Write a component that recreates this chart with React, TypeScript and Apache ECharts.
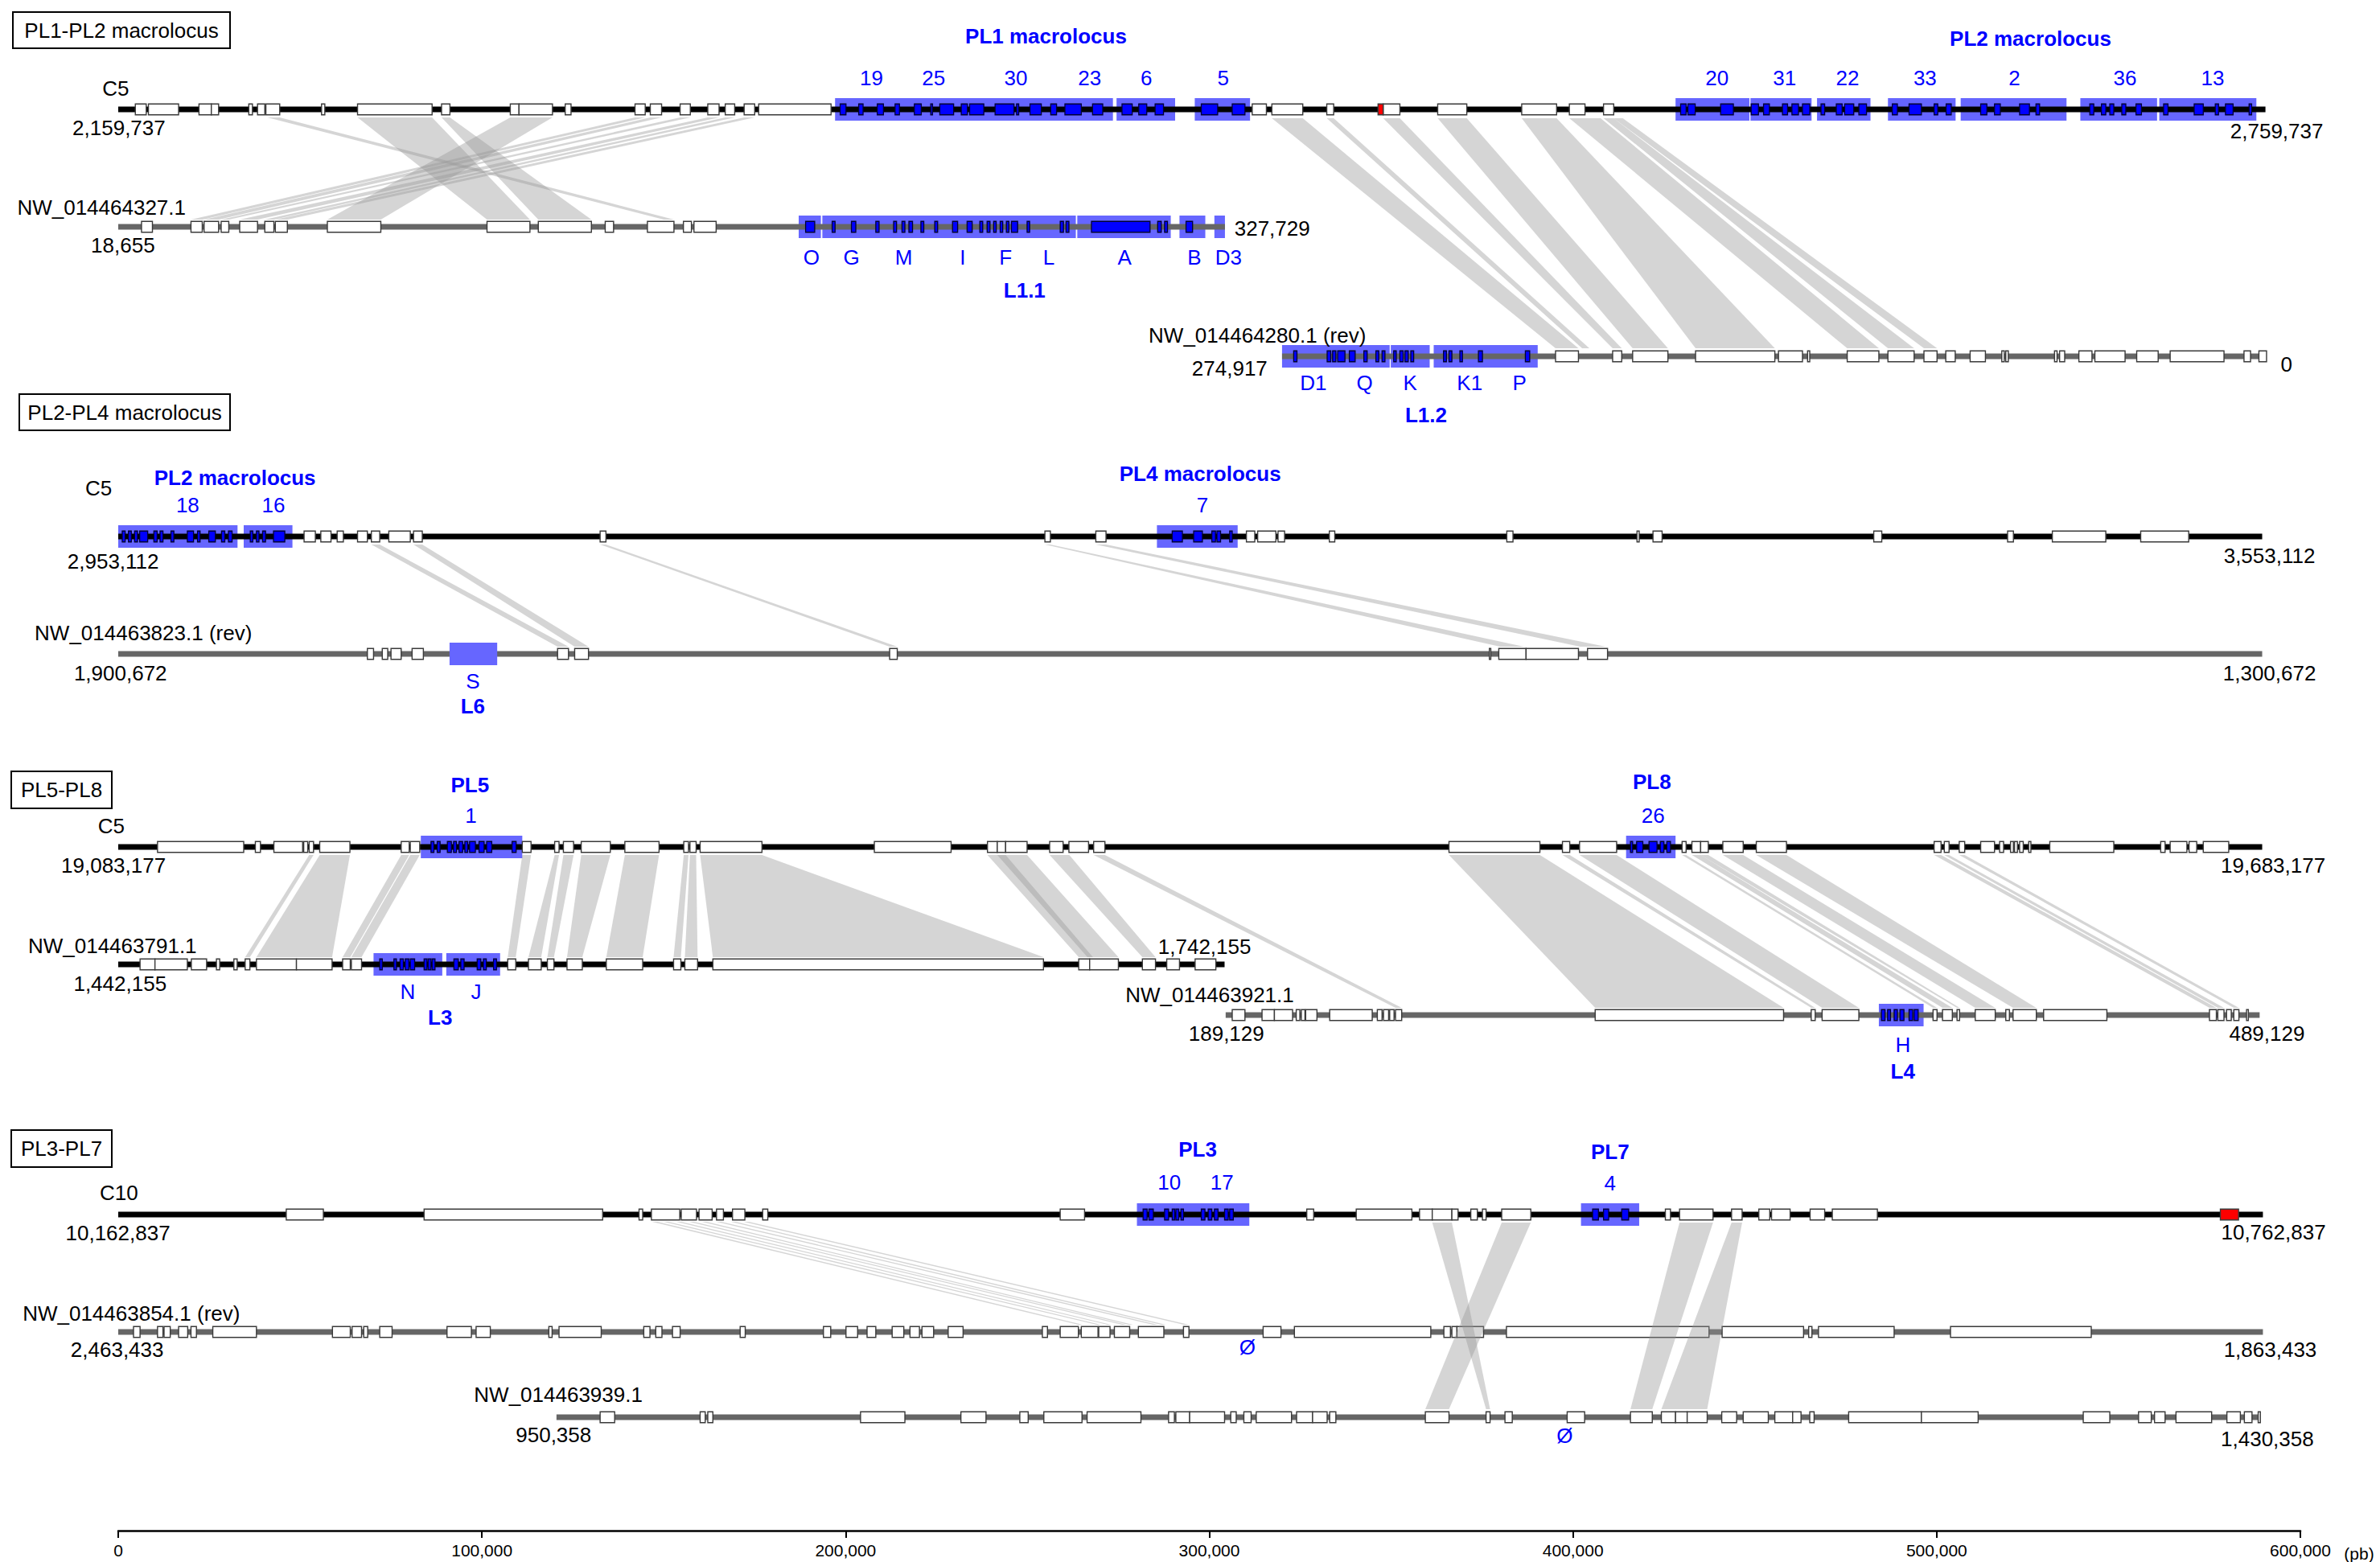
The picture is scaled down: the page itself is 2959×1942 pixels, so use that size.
import React, { useEffect, useRef } from 'react';
import * as echarts from 'echarts';

const FONT = '"Liberation Sans", Arial, Helvetica, sans-serif';

// Vertical rows (pixel positions of each track)
const ROW = {
  p1c5: 136, p1a: 282, p1b: 443,
  p2c5: 667, p2a: 813,
  p3c5: 1053, p3a: 1199, p3b: 1262,
  p4c10: 1510, p4a: 1656, p4b: 1762,
};

// ---------- Panel 1: PL1-PL2 macrolocus ----------
const p1c5Span = [0, 590400];
const p1c5Genes = [[4700,7700],[8300,16600],[22200,25600],[25600,27600],[35900,36900],[38300,40300],[40600,44400],[55900,56800],[65800,86300],[88900,91200],[107800,110200],[110200,119400],[122900,124500],[142100,144900],[146300,149400],[154500,157300],[162100,165200],[166900,169500],[172100,175000],[176100,196000],[311800,315700],[317200,325700],[332300,334200],[347800,352400],[362800,370800],[385900,395500],[399000,403300],[408400,411200]];
const p1c5Red = [[346400,347800]];
const p1c5Blocks = [[197100,273500],[274500,290600],[296000,311200],[428200,448500],[448800,465600],[467100,481800],[486600,505200],[506600,535700],[539500,560600],[561200,587900]];
const p1c5Pgenes = [[198500,200100],[203600,204800],[208700,210400],[213600,214800],[218900,220800],[223400,223900],[225900,229700],[231800,233500],[234100,238000],[241100,246300],[247000,247600],[250700,253800],[256400,258000],[260300,264800],[267900,270700],[276000,278800],[280600,282800],[285100,287400],[297800,302300],[306300,309800],[429600,431100],[431600,433600],[440600,444100],[449000,451000],[452400,454000],[457600,459000],[460200,462000],[463100,465100],[468200,469200],[472400,474000],[474700,477200],[478600,480700],[487800,489200],[492400,495800],[499300,500300],[502600,504000],[512100,513800],[515900,517500],[522800,525500],[527300,528300],[542100,543200],[545300,546500],[547600,548700],[550900,552000],[554800,556300],[562400,563600],[570800,573300],[576600,577500],[579400,581500],[585900,586600]];

const p1aSpan = [0, 304300];
const p1aGenes = [[6400,9400],[20000,23100],[23600,27600],[28300,30400],[33400,38300],[40300,42800],[43200,46500],[57500,72200],[101400,113200],[115500,130100],[133900,136200],[145500,152800],[155400,157600],[158300,164400]];
const p1aBlocks = [[187100,193200],[193600,263300],[263700,289400],[291800,298900],[301400,304300]];
const p1aPgenes = [[189000,191500],[196300,197100],[201600,202800],[208300,209200],[213200,214000],[215500,216300],[217400,218400],[220700,221500],[224500,225300],[229400,230800],[233400,234800],[236900,237700],[238900,239700],[240700,241400],[242500,243200],[244200,244900],[245600,247300],[249900,250600],[259000,259900],[260600,261400],[267600,283700],[285800,286800],[287700,288500],[293600,295400]];

const p1bSpan = [320000, 590700];
const p1bBlocks = [[320000,349600],[349900,360600],[361700,390300]];
const p1bPgenes = [[323200,324100],[332400,333400],[333900,334800],[335300,337300],[338500,340100],[342500,343400],[345800,346600],[347500,348300],[350700,351400],[352400,353300],[353800,354700],[355400,356200],[364400,365200],[365900,366700],[368900,369600],[374000,375100],[386900,388100]];
const p1bGenes = [[395200,401500],[410900,413400],[416400,426100],[433700,455500],[456500,463100],[464500,465100],[475400,484100],[486600,493800],[496500,500100],[502500,505100],[509200,513400],[517900,518600],[519000,519700],[532400,533100],[533800,535200],[539100,542700],[543500,551800],[555000,560900],[564200,579000],[584500,586300],[588600,590700]];

const p1LinksA = [[41000,44400,150000,152800],[65800,86300,101400,113200],[88900,91200,115500,130100],[107800,119400,57500,72200],[142100,144900,20000,23100],[146300,149400,23600,27600],[154500,157300,28300,30400],[162100,165200,33400,38300],[166900,169500,40300,42800],[172100,175000,43200,46500]];
const p1LinksB = [[317200,325700,395200,401500],[332300,334200,402500,404500],[347800,352400,410900,413400],[362800,370800,416400,426100],[385900,395500,433700,455500],[399000,407600,475400,484100],[408400,411200,486600,493800],[411200,413700,496500,500100]];

// ---------- Panel 2: PL2-PL4 macrolocus ----------
const p2c5Span = [0, 589500];
const p2c5Blocks = [[0,32800],[34500,47900],[285600,307800]];
const p2c5Pgenes = [[1100,1900],[2800,3600],[4500,5300],[5900,8100],[9800,10700],[11500,12300],[14500,15300],[19000,20700],[21800,22500],[24900,26700],[28400,29300],[30300,31300],[36300,37000],[38000,38700],[39700,40500],[42700,45800],[289800,292600],[295700,298100],[300700,301700],[302100,303100],[305600,306300]];
const p2c5Genes = [[51100,54200],[55700,58500],[60200,61900],[65800,68500],[69600,71900],[74400,80300],[81200,83600],[132500,134100],[254800,256300],[268800,271600],[310200,312500],[313300,318300],[318900,320700],[333000,334500],[381800,383500],[417600,418200],[422000,424500],[482700,484900],[519500,521100],[531800,546500],[556100,569300]];

const p2aSpan = [0, 589500];
const p2aGenes = [[68500,70200],[72600,74100],[75000,77800],[80800,83900],[120800,123800],[125500,129300],[212100,214200],[377000,377400],[379600,387100],[387100,401500],[404000,409500]];
const p2aBlocksTop = [[91100,104200]];
const p2Links = [[69600,71900,120800,123800],[81200,83600,125500,129300],[132500,134100,212100,214200],[254800,256300,380000,386500],[268800,271600,402000,409000]];

// ---------- Panel 3: PL5-PL8 ----------
const p3c5Span = [0, 589500];
const p3c5Genes = [[10800,34500],[37700,39100],[42800,50700],[51000,52100],[52500,53700],[55400,63700],[77800,80000],[80300,82900],[111100,113500],[120000,121200],[122400,125200],[127300,135300],[139300,148700],[155500,156800],[157200,158900],[160000,177000],[207900,229000],[239000,241700],[241700,244000],[244000,249900],[256100,259800],[261400,266800],[268200,271300],[365900,390900],[397100,399100],[401800,412000],[430000,431100],[432700,435100],[435100,437200],[441200,446800],[450400,458700],[499300,501200],[502100,503400],[506200,507700],[512100,515900],[517300,518400],[520300,521100],[521400,522200],[522800,523800],[525300,525900],[531100,548700],[561600,562800],[564200,568800],[569400,571500],[573300,580300]];
const p3c5Blocks = [[83200,111100],[414600,428200]];
const p3c5Pgenes = [[86000,86800],[87700,88500],[90500,91600],[92200,93000],[93700,94700],[95300,96100],[96600,98200],[99200,100600],[101300,102700],[108300,109400],[415800,416400],[417500,419200],[420900,423100],[424000,425000],[425800,426800]];

const p3aSpan = [0, 304200];
const p3aGenes = [[6000,10100],[10100,19000],[20100,24300],[27000,27900],[31800,32700],[34900,36200],[38000,49000],[49000,58800],[61700,63800],[64100,66900],[107100,109300],[112800,116300],[118000,119800],[123400,127600],[134200,144200],[152700,154700],[155800,159300],[163500,254400],[264100,267100],[267100,275000],[281600,285200],[288300,291800],[296100,301800]];
const p3aBlocks = [[70200,89100],[90200,105000]];
const p3aPgenes = [[71900,72600],[75800,76500],[77500,78400],[78900,79900],[80300,81500],[84100,84900],[85200,86000],[86300,87100],[92300,93500],[94200,95100],[98700,99700],[100400,101200],[103200,104000]];

const p3bSpan = [304500, 588800];
const p3bGenes = [[306300,309800],[314500,317900],[317900,322900],[323900,324900],[325300,326300],[326500,329600],[333100,344800],[346200,347500],[347900,349300],[349600,350800],[351200,352900],[406100,457900],[465500,466600],[468500,478600],[499000,500100],[501600,504300],[505600,506300],[510600,516100],[519000,520000],[521000,527400],[529400,546800],[575000,576900],[577300,579000],[579700,581000],[581700,583100],[585200,585700]];
const p3bBlocks = [[484100,496400]];
const p3bPgenes = [[484800,485800],[486500,487300],[488300,489200],[489900,491000],[492400,493400],[493800,494900]];

const p3LinksA = [[52500,53700,34900,36200],[55400,63700,38000,58800],[77800,80000,61700,63800],[80300,82900,64100,66900],[111100,113500,107100,109300],[120000,121200,112800,116300],[122400,125200,118000,119800],[127300,135300,123400,127600],[139300,148700,134200,144200],[155500,156800,152700,154700],[157200,158900,155800,159300],[160000,177000,163500,254400],[239000,244000,264100,268000],[241700,249900,266500,275000],[256100,261500,281600,285200]];
const p3LinksB = [[268200,271300,351200,352900],[365900,390900,406100,457900],[397100,399100,465500,466600],[401800,412000,468500,478600],[430000,431100,499000,500100],[432700,435100,501600,504300],[435100,437200,505600,506300],[441200,446800,510600,516100],[450400,458700,521000,527400],[499300,501200,575000,576900],[502100,503400,577300,579000],[506200,507700,581700,583100]];

// ---------- Panel 4: PL3-PL7 ----------
const p4c10Span = [0, 589700];
const p4c10Genes = [[46200,56400],[84100,133200],[143200,144200],[146600,154400],[154800,159000],[159700,163300],[164500,166400],[168900,172300],[177200,178600],[259000,265700],[326800,328700],[340400,355700],[357800,361300],[361300,366700],[366700,368400],[371900,373700],[375100,376100],[380400,388400],[425400,426800],[429300,438500],[443600,446500],[451100,454100],[454600,459700],[465200,469200],[471300,483700]];
const p4c10Red = [[578000,583000]];
const p4c10Blocks = [[280100,311000],[402200,418200]];
const p4c10Pgenes = [[281800,282900],[283400,284600],[287700,288800],[289800,290500],[290800,291600],[292200,292900],[297800,298800],[299700,300700],[301400,302400],[304200,305200],[305600,306600],[405400,407000],[408400,409800],[413400,415300]];

const p4aSpan = [0, 589700];
const p4aGenes = [[4200,6000],[10800,12300],[12600,14300],[16600,19100],[20000,21500],[26000,38000],[58900,63800],[64300,66900],[67500,68600],[71900,75300],[90400,97100],[98400,102300],[118400,119300],[121200,132800],[144500,146200],[147800,149500],[152400,154500],[171000,172400],[193900,195900],[200100,203300],[205900,208300],[212800,216000],[217700,220300],[221000,224200],[228200,232300],[254100,255500],[259000,264000],[264800,269400],[269600,272700],[273900,278100],[280500,287500],[292900,294400],[314800,319700],[323400,360900],[364500,366300],[366700,368100],[368100,375400],[381700,437400],[441000,463400],[464800,465700],[467500,488300],[503800,542500]];

const p4bSpan = [120500, 589000];
const p4bGenes = [[132500,136500],[160000,161400],[162100,163500],[204100,216300],[231700,238600],[247900,250200],[254500,265000],[266400,281200],[288800,290400],[290800,294600],[294600,304200],[305900,307400],[309500,311500],[312900,322600],[324000,328400],[328400,332400],[333100,334800],[359400,365900],[376100,377200],[381300,383300],[398400,403200],[415800,421800],[424300,428200],[428200,431400],[431400,436900],[440900,445000],[446800,453700],[455500,460400],[460400,462700],[465100,466300],[475800,495800],[495800,511400],[540300,547600],[555500,559000],[559900,562800],[565800,575600],[579800,583500],[584600,586700],[588400,589000]];

const p4LinksA = [[146800,148300,264000,265200],[150000,151300,269000,270200],[153500,154800,272000,273000],[157000,158300,276000,277200],[160500,161800,277800,279000],[164500,165800,284500,285800],[168500,169800,286800,288000],[172000,173400,293000,294400]];
const p4LinksB = [[361300,366700,376100,377200],[380400,388400,359400,365900],[429300,438500,415800,421800],[443600,446500,424300,436900]];

// ---------- Text labels [x (bp), y (row px), text] ----------
const blackTexts: [number, number, string][] = [
  [-700,110,'C5'],[200,159,'2,159,737'],[-4600,258,'NW_014464327.1'],[1300,305,'18,655'],[317300,284,'327,729'],[313200,417,'NW_014464280.1 (rev)'],[305600,458,'274,917'],[593500,163,'2,759,737'],[596200,453,'0'],
  [-5400,607,'C5'],[-1400,698,'2,953,112'],[6900,787,'NW_014463823.1 (rev)'],[600,837,'1,900,672'],[591500,691,'3,553,112'],[591500,837,'1,300,672'],
  [-1900,1027,'C5'],[-1300,1076,'19,083,177'],[-1600,1176,'NW_014463791.1'],[500,1223,'1,442,155'],[298700,1177,'1,742,155'],[300100,1237,'NW_014463921.1'],[304700,1285,'189,129'],[592500,1076,'19,683,177'],[590800,1285,'489,129'],
  [200,1483,'C10'],[-100,1533,'10,162,837'],[3600,1633,'NW_014463854.1 (rev)'],[-300,1678,'2,463,433'],[121000,1734,'NW_014463939.1'],[119700,1784,'950,358'],[592600,1532,'10,762,837'],[591700,1678,'1,863,433'],[590900,1789,'1,430,358'],
];
const blueTexts: [number, number, string][] = [
  [207100,97,'19'],[224200,97,'25'],[246800,97,'30'],[267100,97,'23'],[282700,97,'6'],[303800,97,'5'],
  [439600,97,'20'],[458200,97,'31'],[475500,97,'22'],[496800,97,'33'],[521400,97,'2'],[551800,97,'36'],[575900,97,'13'],
  [190600,320,'O'],[201600,320,'G'],[216000,320,'M'],[232200,320,'I'],[244000,320,'F'],[255900,320,'L'],[276700,320,'A'],[295900,320,'B'],[305300,320,'D3'],
  [328600,476,'D1'],[342700,476,'Q'],[355200,476,'K'],[371600,476,'K1'],[385300,476,'P'],
  [19100,628,'18'],[42700,628,'16'],[298100,628,'7'],[97500,847,'S'],
  [97000,1014,'1'],[422000,1014,'26'],[79600,1233,'N'],[98400,1233,'J'],[490700,1299,'H'],
  [289000,1470,'10'],[303500,1470,'17'],[410200,1471,'4'],[310500,1675,'Ø'],[397700,1785,'Ø'],
];
const blueBoldTexts: [number, number, string][] = [
  [255100,45,'PL1 macrolocus'],[525800,48,'PL2 macrolocus'],[249200,361,'L1.1'],[359600,516,'L1.2'],
  [32100,594,'PL2 macrolocus'],[297500,589,'PL4 macrolocus'],[97500,878,'L6'],
  [96700,976,'PL5'],[421700,972,'PL8'],[88500,1265,'L3'],[490700,1332,'L4'],
  [296800,1429,'PL3'],[410200,1432,'PL7'],
];
const panelTitles = ['PL1-PL2 macrolocus', 'PL2-PL4 macrolocus', 'PL5-PL8', 'PL3-PL7'];
const xTicks = [0, 100000, 200000, 300000, 400000, 500000, 600000];

// ---------- helpers ----------
const GENE_H = 13.5;
const TRACK_H = 7;
const BLOCK_H = 28;

const withRow = (list: number[][], row: number) => list.map((d) => [d[0], d[1], row]);

function rectSeries(name: string, data: number[][], h: number, styleFn: (api: any) => any, z: number) {
  return {
    type: 'custom', name, coordinateSystem: 'cartesian2d', clip: false, silent: true, z,
    encode: { x: [0, 1], y: 2 },
    data,
    renderItem: (_p: any, api: any) => {
      const a = api.coord([api.value(0), api.value(2)]);
      const b = api.coord([api.value(1), api.value(2)]);
      return {
        type: 'rect',
        shape: { x: a[0], y: a[1] - h / 2, width: Math.max(b[0] - a[0], 1), height: h },
        style: styleFn(api),
      };
    },
  };
}

function linkData(list: number[][], y1: number, y2: number) {
  return list.map((d) => [d[0], d[1], d[2], d[3], y1, y2]);
}

function textSeries(name: string, items: [number, number, string][], color: string, weight: string, z: number) {
  return {
    type: 'custom', name, coordinateSystem: 'cartesian2d', clip: false, silent: true, z,
    encode: { x: 0, y: 1 },
    data: items.map((d) => [d[0], d[1]]),
    renderItem: (params: any, api: any) => {
      const p = api.coord([api.value(0), api.value(1)]);
      return {
        type: 'text', x: p[0], y: p[1],
        style: {
          text: items[params.dataIndex][2], fill: color, fontSize: 26, fontWeight: weight, fontFamily: FONT,
          align: 'center', verticalAlign: 'middle', textAlign: 'center', textVerticalAlign: 'middle',
        },
      };
    },
  };
}

function buildOption() {
  const tracks = [
    [p1c5Span[0], p1c5Span[1], ROW.p1c5, 0], [p1aSpan[0], p1aSpan[1], ROW.p1a, 1], [p1bSpan[0], p1bSpan[1], ROW.p1b, 1],
    [p2c5Span[0], p2c5Span[1], ROW.p2c5, 0], [p2aSpan[0], p2aSpan[1], ROW.p2a, 1],
    [p3c5Span[0], p3c5Span[1], ROW.p3c5, 0], [p3aSpan[0], p3aSpan[1], ROW.p3a, 0], [p3bSpan[0], p3bSpan[1], ROW.p3b, 1],
    [p4c10Span[0], p4c10Span[1], ROW.p4c10, 0], [p4aSpan[0], p4aSpan[1], ROW.p4a, 1], [p4bSpan[0], p4bSpan[1], ROW.p4b, 1],
  ];
  const blocks = [
    ...withRow(p1c5Blocks, ROW.p1c5), ...withRow(p1aBlocks, ROW.p1a), ...withRow(p1bBlocks, ROW.p1b),
    ...withRow(p2c5Blocks, ROW.p2c5),
    ...withRow(p3c5Blocks, ROW.p3c5), ...withRow(p3aBlocks, ROW.p3a), ...withRow(p3bBlocks, ROW.p3b),
    ...withRow(p4c10Blocks, ROW.p4c10),
  ];
  const blocksTop = [...withRow(p2aBlocksTop, ROW.p2a)];
  const genes = [
    ...withRow(p1c5Genes, ROW.p1c5), ...withRow(p1aGenes, ROW.p1a), ...withRow(p1bGenes, ROW.p1b),
    ...withRow(p2c5Genes, ROW.p2c5), ...withRow(p2aGenes, ROW.p2a),
    ...withRow(p3c5Genes, ROW.p3c5), ...withRow(p3aGenes, ROW.p3a), ...withRow(p3bGenes, ROW.p3b),
    ...withRow(p4c10Genes, ROW.p4c10), ...withRow(p4aGenes, ROW.p4a), ...withRow(p4bGenes, ROW.p4b),
  ];
  const pgenes = [
    ...withRow(p1c5Pgenes, ROW.p1c5), ...withRow(p1aPgenes, ROW.p1a), ...withRow(p1bPgenes, ROW.p1b),
    ...withRow(p2c5Pgenes, ROW.p2c5),
    ...withRow(p3c5Pgenes, ROW.p3c5), ...withRow(p3aPgenes, ROW.p3a), ...withRow(p3bPgenes, ROW.p3b),
    ...withRow(p4c10Pgenes, ROW.p4c10),
  ];
  const reds = [...withRow(p1c5Red, ROW.p1c5), ...withRow(p4c10Red, ROW.p4c10)];
  const links = [
    ...linkData(p1LinksA, ROW.p1c5 + 10, ROW.p1a - 9),
    ...linkData(p1LinksB, ROW.p1c5 + 11, ROW.p1b - 10),
    ...linkData(p2Links, ROW.p2c5 + 10, ROW.p2a - 9),
    ...linkData(p3LinksA, ROW.p3c5 + 10, ROW.p3a - 9),
    ...linkData(p3LinksB, ROW.p3c5 + 10, ROW.p3b - 9),
    ...linkData(p4LinksA, ROW.p4c10 + 9, ROW.p4a - 9),
    ...linkData(p4LinksB, ROW.p4c10 + 10, ROW.p4b - 10),
  ];

  const titleBoxes = [
    { x: 16, y: 15, w: 270, h: 45 },
    { x: 24, y: 490, w: 262, h: 45 },
    { x: 14, y: 959, w: 125, h: 46 },
    { x: 14, y: 1405, w: 125, h: 46 },
  ];
  const graphic: any[] = [];
  titleBoxes.forEach((b, i) => {
    graphic.push({ type: 'rect', silent: true, shape: { x: b.x, y: b.y, width: b.w, height: b.h }, style: { fill: '#fff', stroke: '#000', lineWidth: 2 } });
    graphic.push({
      type: 'text', silent: true, x: b.x + b.w / 2, y: b.y + b.h / 2,
      style: { text: panelTitles[i], fill: '#000', fontSize: 26, fontFamily: FONT, align: 'center', verticalAlign: 'middle', textAlign: 'center', textVerticalAlign: 'middle' },
    });
  });
  graphic.push({
    type: 'text', silent: true, x: 2933, y: 1931,
    style: { text: '(pb)', fill: '#000', fontSize: 21, fontFamily: FONT, align: 'center', verticalAlign: 'middle', textAlign: 'center', textVerticalAlign: 'middle' },
  });

  return {
    animation: false,
    backgroundColor: '#ffffff',
    grid: { left: 147, right: 99, top: 0, bottom: 39, containLabel: false, outerBoundsMode: 'none' },
    xAxis: {
      type: 'value', position: 'bottom', min: xTicks[0], max: xTicks[xTicks.length - 1], interval: 100000,
      axisLine: { show: true, onZero: false, lineStyle: { color: '#000', width: 2.5 } },
      axisTick: { show: true, length: 9, lineStyle: { color: '#000', width: 2 } },
      axisLabel: { color: '#000', fontSize: 21, fontFamily: FONT, margin: 14, formatter: (v: number) => v.toLocaleString('en-US') },
      splitLine: { show: false },
    },
    yAxis: { type: 'value', min: 0, max: 1903, inverse: true, show: false, splitLine: { show: false } },
    graphic,
    series: [
      rectSeries('blocks', blocks, BLOCK_H, () => ({ fill: '#6666ff' }), 1),
      rectSeries('tracks', tracks, TRACK_H, (api) => ({ fill: api.value(3) === 0 ? '#000000' : '#666666' }), 2),
      rectSeries('blocksTop', blocksTop, BLOCK_H, () => ({ fill: '#6666ff' }), 3),
      rectSeries('genes', genes, GENE_H, () => ({ fill: '#ffffff', stroke: '#3a3a3a', lineWidth: 1.4 }), 4),
      rectSeries('pgenes', pgenes, GENE_H, () => ({ fill: '#0000ff', stroke: '#000033', lineWidth: 1.3 }), 5),
      rectSeries('red', reds, GENE_H, () => ({ fill: '#ff0000', stroke: '#3a3a3a', lineWidth: 1.4 }), 5),
      {
        type: 'custom', name: 'links', coordinateSystem: 'cartesian2d', clip: false, silent: true, z: 6,
        encode: { x: [0, 1, 2, 3], y: [4, 5] },
        data: links,
        renderItem: (_p: any, api: any) => {
          const y1 = api.value(4), y2 = api.value(5);
          const a1 = api.coord([api.value(0), y1]);
          const a2 = api.coord([api.value(1), y1]);
          const b2 = api.coord([api.value(3), y2]);
          const b1 = api.coord([api.value(2), y2]);
          return { type: 'polygon', shape: { points: [a1, a2, b2, b1] }, style: { fill: 'rgba(150,150,150,0.4)' } };
        },
      },
      textSeries('blackText', blackTexts, '#000000', 'normal', 7),
      textSeries('blueText', blueTexts, '#0000ff', 'normal', 7),
      textSeries('blueBoldText', blueBoldTexts, '#0000ff', 'bold', 7),
    ],
  };
}

export default function App() {
  const ref = useRef<HTMLDivElement>(null);
  useEffect(() => {
    if (!ref.current) return;
    const chart = echarts.init(ref.current, null, { renderer: 'svg' });
    chart.setOption(buildOption() as any);
    return () => chart.dispose();
  }, []);
  return <div ref={ref} style={{ position: 'absolute', left: 0, top: 0, width: 2959, height: 1942, background: '#fff' }} />;
}
